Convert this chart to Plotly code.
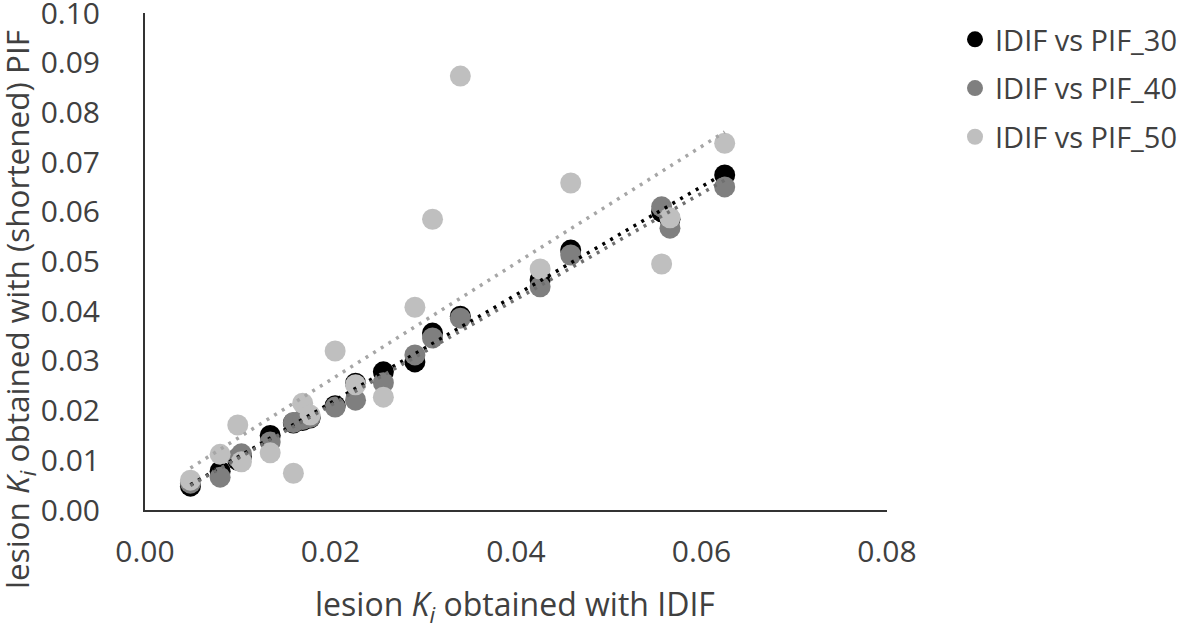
import numpy as np
import plotly.graph_objects as go

# lesion Ki obtained with IDIF (x) and with shortened PIF (y)
idif = [0.0049, 0.0081, 0.0100, 0.0104, 0.0135, 0.0160, 0.0170, 0.0178, 0.0205,
        0.0227, 0.0257, 0.0291, 0.0310, 0.0340, 0.0426, 0.0459, 0.0557, 0.0566, 0.0625]
pif30 = [0.0048, 0.0078, 0.0100, 0.0108, 0.0150, 0.0175, 0.0180, 0.0185, 0.0210,
         0.0255, 0.0278, 0.0298, 0.0356, 0.0390, 0.0463, 0.0523, 0.0600, 0.0585, 0.0674]
pif40 = [0.0054, 0.0066, 0.0105, 0.0113, 0.0137, 0.0176, 0.0182, 0.0186, 0.0207,
         0.0221, 0.0256, 0.0312, 0.0346, 0.0386, 0.0449, 0.0513, 0.0610, 0.0567, 0.0650]
pif50 = [0.0060, 0.0112, 0.0171, 0.0097, 0.0115, 0.0074, 0.0215, 0.0191, 0.0320,
         0.0252, 0.0227, 0.0408, 0.0585, 0.0873, 0.0485, 0.0658, 0.0495, 0.0588, 0.0738]

series_names = ["IDIF vs PIF_30", "IDIF vs PIF_40", "IDIF vs PIF_50"]
series_values = [pif30, pif40, pif50]
marker_colors = ["#000000", "#7f7f7f", "#bfbfbf"]
trend_colors = ["#000000", "#6f6f6f", "#a6a6a6"]

x_ticks = [0.00, 0.02, 0.04, 0.06, 0.08]
y_ticks = [0.00, 0.01, 0.02, 0.03, 0.04, 0.05, 0.06, 0.07, 0.08, 0.09, 0.10]
x_title = "lesion <i>K<sub>i</sub></i> obtained with IDIF"
y_title = "lesion <i>K<sub>i</sub></i> obtained with (shortened) PIF"

FONT = "Open Sans"
TXT = "#404040"

W, H = 1179, 628
L, T, R, B = 145, 13, 292, 118
PW, PH = W - L - R, H - T - B

fig = go.Figure()
x = np.array(idif)
for i, (name, vals, col) in enumerate(zip(series_names, series_values, marker_colors)):
    fig.add_trace(go.Scatter(
        x=idif, y=vals, mode="markers", name=name, legendgroup=f"g{i}",
        marker=dict(size=21, color=col, line=dict(width=0)),
    ))

xfit = np.array([x.min(), x.max()])
for i, (vals, col) in enumerate(zip(series_values, trend_colors)):
    k, b = np.polyfit(x, np.array(vals), 1)
    fig.add_trace(go.Scatter(
        x=xfit, y=k * xfit + b, mode="lines", showlegend=False, legendgroup=f"g{i}",
        line=dict(color=col, width=3.5, dash="3px,6px"), hoverinfo="skip",
    ))

fig.update_layout(
    width=W, height=H,
    margin=dict(l=L, r=R, t=T, b=B),
    paper_bgcolor="white", plot_bgcolor="white",
    font=dict(family=FONT, color=TXT, size=30),
    legend=dict(
        x=955 / W, xref="container", xanchor="left",
        y=1 - 14 / H, yref="container", yanchor="top",
        font=dict(family=FONT, size=29, color=TXT),
        bgcolor="rgba(0,0,0,0)", tracegroupgap=8, traceorder="grouped",
    ),
    xaxis=dict(
        range=[0, 0.08], tickvals=x_ticks, ticktext=[f"{v:.2f}" for v in x_ticks],
        showgrid=False, zeroline=False, showline=True, linecolor="#333333", linewidth=2,
        ticks="", tickfont=dict(size=30, color=TXT), ticklabelstandoff=14,
        automargin=False, ticklabeloverflow="allow",
    ),
    yaxis=dict(
        range=[0, 0.10], tickvals=y_ticks, ticktext=[f"{v:.2f}" for v in y_ticks],
        showgrid=False, zeroline=False, showline=True, linecolor="#333333", linewidth=2,
        ticks="", tickfont=dict(size=30, color=TXT), ticklabelstandoff=37,
        automargin=False, ticklabeloverflow="allow",
    ),
    annotations=[
        dict(text=x_title, xref="paper", yref="paper",
             x=(515 - L) / PW, y=(H - B - 606) / PH, xanchor="center", yanchor="middle",
             showarrow=False, font=dict(size=32, color=TXT, family=FONT)),
        dict(text=y_title, xref="paper", yref="paper", textangle=-90,
             x=(18 - L) / PW, y=(H - B - 310) / PH, xanchor="center", yanchor="middle",
             showarrow=False, font=dict(size=31.5, color=TXT, family=FONT)),
    ],
)

fig.write_html("out.html", config={"displayModeBar": False},
               post_script="document.body.style.margin='0';")
